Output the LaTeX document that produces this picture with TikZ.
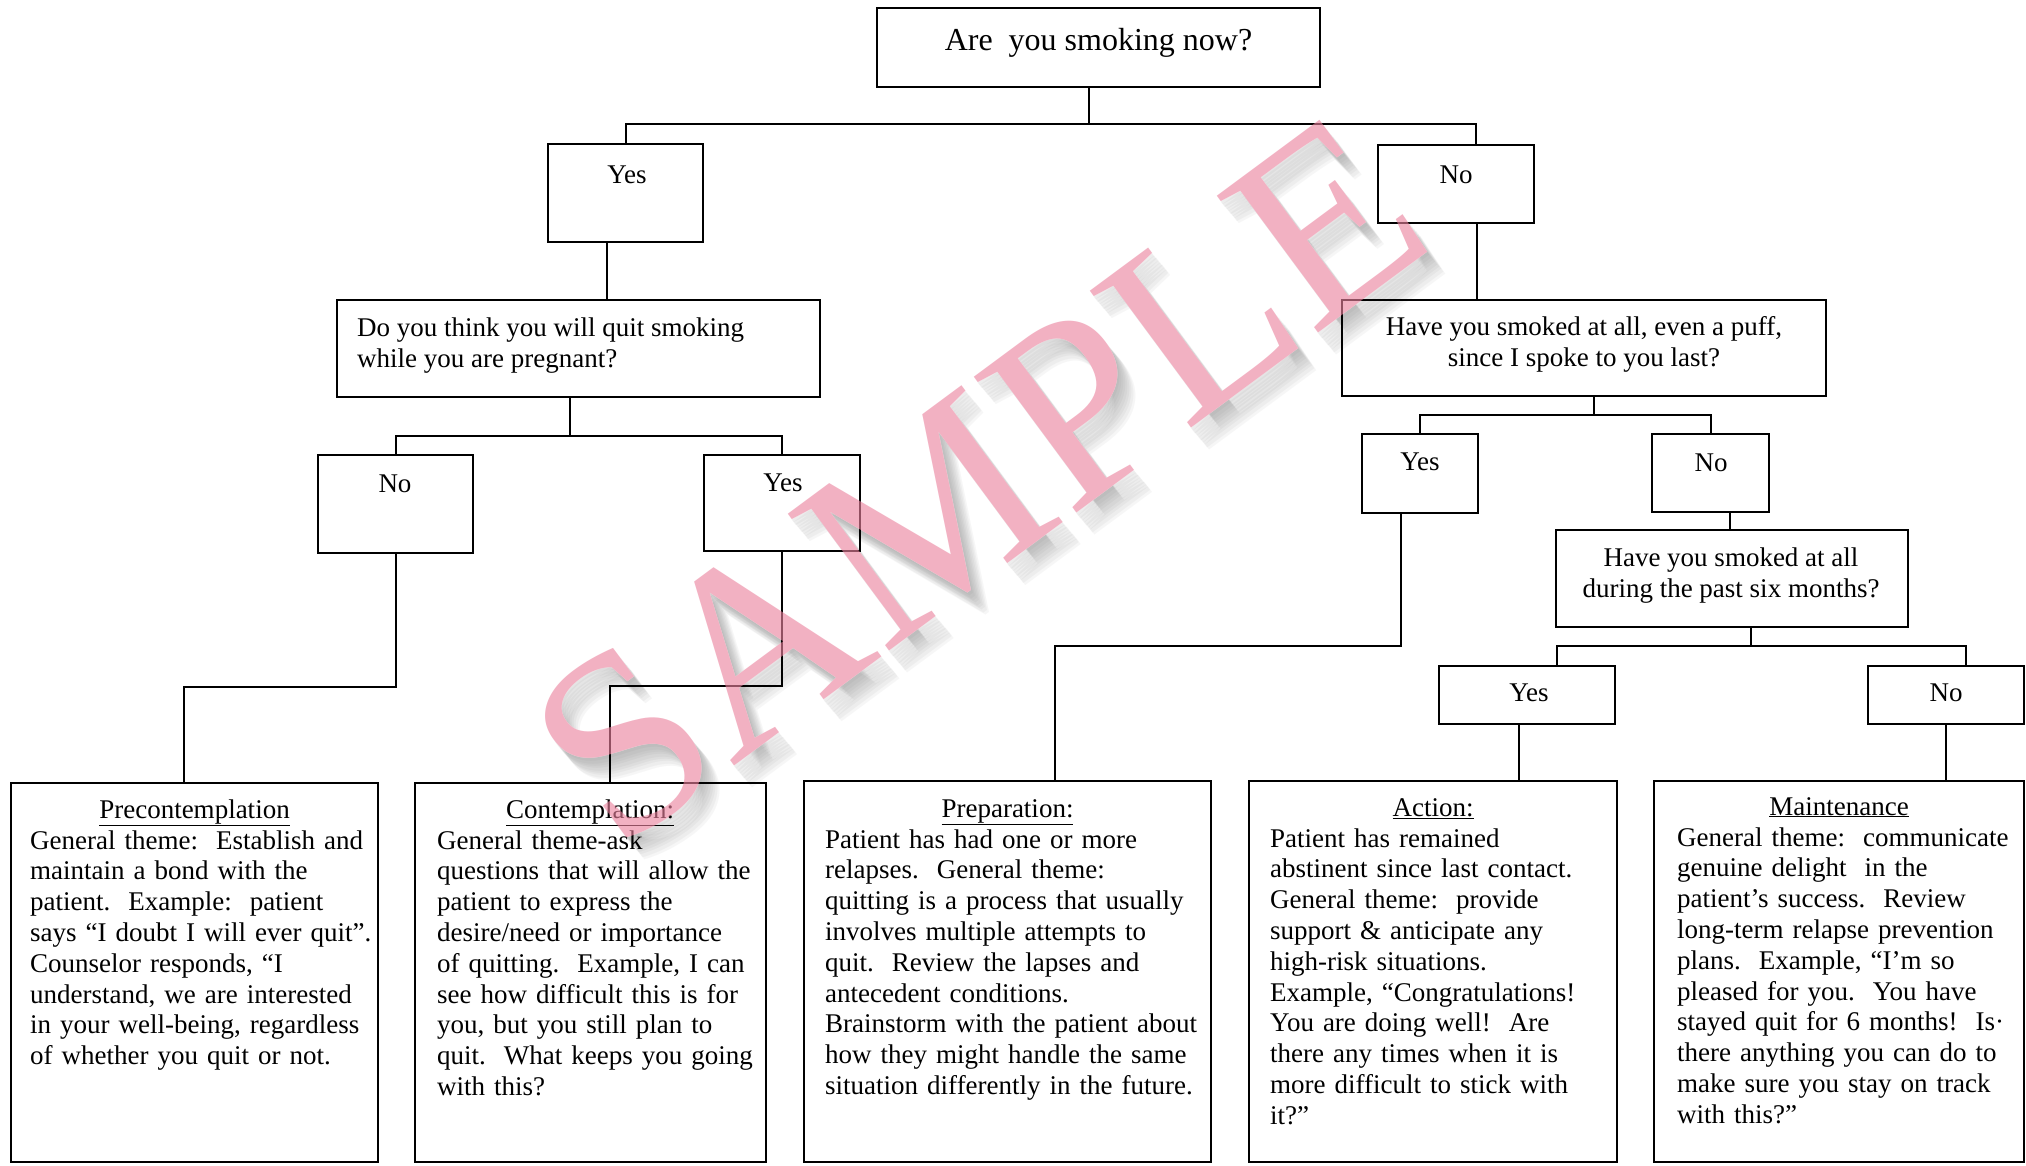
\documentclass[tikz,border=0pt]{standalone}
\usepackage{fontspec}
\setmainfont{Liberation Serif}
\definecolor{wmpink}{RGB}{235,130,158}
\definecolor{wmshade}{RGB}{100,100,100}
\begin{document}
\begin{tikzpicture}[x=1pt,y=-1pt,
  box/.style={draw, line width=2pt, inner sep=0pt, outer sep=0pt, anchor=north west},
  conn/.style={line width=2pt},
  lbl/.style={font=\fontsize{27}{31}\selectfont, inner sep=0pt, anchor=base},
  body/.style={font=\fontsize{27}{30.8}\selectfont, inner sep=0pt, anchor=base west, align=left, text width=420pt},
  wmtext/.style={rotate=36.5, font=\fontsize{260}{260}\selectfont, inner sep=0pt},
  wmshadow/.style={wmtext, text=wmshade, opacity=0.055}]
\useasboundingbox (0,0) rectangle (2026,1165);
\fill[white] (0,0) rectangle (2026,1165);
\begin{scope}
\clip (0,0) rectangle (2026,1165);
% watermark shadow and knockout
\node[wmshadow] (wms1) at (980,483) {SAMPLE};
\node[wmshadow] (wms2) at (982,486) {SAMPLE};
\node[wmshadow] (wms3) at (984,488) {SAMPLE};
\node[wmshadow] (wms4) at (986,490) {SAMPLE};
\node[wmshadow] (wms5) at (988,493) {SAMPLE};
\node[wmshadow] (wms6) at (990,495) {SAMPLE};
\node[wmshadow] (wms7) at (992,497) {SAMPLE};
\node[wmshadow] (wms8) at (994,500) {SAMPLE};
\node[wmshadow] (wms9) at (996,502) {SAMPLE};
\node[wmtext, text=white] (wmk) at (978,480) {SAMPLE};

% boxes
\node[box, minimum width=443pt, minimum height=79pt] (top) at (877,8) {};
\node[box, minimum width=155pt, minimum height=98pt] (yes1) at (548,144) {};
\node[box, minimum width=156pt, minimum height=78pt] (no1) at (1378,145) {};
\node[box, minimum width=483pt, minimum height=97pt] (q1) at (337,300) {};
\node[box, minimum width=484pt, minimum height=96pt] (q2) at (1342,300) {};
\node[box, minimum width=155pt, minimum height=98pt] (no2) at (318,455) {};
\node[box, minimum width=156pt, minimum height=96pt] (yes2) at (704,455) {};
\node[box, minimum width=116pt, minimum height=79pt] (yes3) at (1362,434) {};
\node[box, minimum width=117pt, minimum height=78pt] (no3) at (1652,434) {};
\node[box, minimum width=352pt, minimum height=97pt] (q3) at (1556,530) {};
\node[box, minimum width=176pt, minimum height=58pt] (yes4) at (1439,666) {};
\node[box, minimum width=156pt, minimum height=58pt] (no4) at (1868,666) {};
\node[box, minimum width=367pt, minimum height=379pt] (pre) at (11,783) {};
\node[box, minimum width=351pt, minimum height=379pt] (con) at (415,783) {};
\node[box, minimum width=407pt, minimum height=381pt] (prep) at (804,781) {};
\node[box, minimum width=368pt, minimum height=381pt] (act) at (1249,781) {};
\node[box, minimum width=370pt, minimum height=381pt] (mai) at (1654,781) {};

% junctions
\coordinate (j0) at (1089,124);
\coordinate (j1) at (570,436);
\coordinate (j2) at (184,687);
\coordinate (j3) at (610,686);
\coordinate (j4) at (1594,415);
\coordinate (j5) at (1055,646);
\coordinate (j6) at (1751,646);

% connectors
\draw[conn] ([xshift=-9.5pt]top.south) -- (j0);
\draw[conn] (yes1.north) |- (j0) -| ([xshift=20pt]no1.north);
\draw[conn] ([xshift=-18.5pt]yes1.south) |- (q1.north);
\draw[conn] ([xshift=-8.5pt]q1.south) -- (j1);
\draw[conn] (no2.north) |- (j1) -| (yes2.north);
\draw[conn] (no2.south) |- (j2) -- ([xshift=-10.5pt]pre.north);
\draw[conn] (yes2.south) |- (j3) -- ([xshift=19.5pt]con.north);
\draw[conn] ([xshift=21pt]no1.south) |- (q2.north);
\draw[conn] ([xshift=10pt]q2.south) -- (j4);
\draw[conn] (yes3.north) |- (j4) -| (no3.north);
\draw[conn] ([xshift=-19pt]yes3.south) |- (j5) -- ([xshift=47.5pt]prep.north);
\draw[conn] ([xshift=19.5pt]no3.south) |- (q3.north);
\draw[conn] ([xshift=19pt]q3.south) -- (j6);
\draw[conn] ([xshift=30pt]yes4.north) |- (j6) -| ([xshift=20pt]no4.north);
\draw[conn] ([xshift=-8pt]yes4.south) |- (act.north);
\draw[conn] (no4.south) |- (mai.north);

% labels
\node[lbl, font=\fontsize{32}{36}\selectfont] (toptxt) at (1098.5,50) {Are\ \ you smoking now?};
\node[lbl] (yes1t) at (627,183) {Yes};
\node[lbl] (no1t) at (1456,183) {No};
\node[lbl, anchor=base west, align=left] (q1t) at (357,367) {Do you think you will quit smoking\\while you are pregnant?};
\node[lbl, align=center] (q2t) at (1584,366) {Have you smoked at all, even a puff,\\since I spoke to you last?};
\node[lbl] (no2t) at (395,492) {No};
\node[lbl] (yes2t) at (783,491) {Yes};
\node[lbl] (yes3t) at (1420,470) {Yes};
\node[lbl] (no3t) at (1711,471) {No};
\node[lbl, align=center] (q3t) at (1731,597) {Have you smoked at all\\during the past six months?};
\node[lbl] (yes4t) at (1529,701) {Yes};
\node[lbl] (no4t) at (1946,701) {No};

% stage titles
\node[lbl] (pretitle) at (194.5,818) {\underline{Precontemplation}};
\node[lbl] (contitle) at (590,818) {\underline{Contemplation:}};
\node[lbl] (preptitle) at (1007.5,817) {\underline{Preparation:}};
\node[lbl] (acttitle) at (1433,816) {\underline{Action:}};
\node[lbl] (maititle) at (1839,815) {\underline{Maintenance}};

% stage bodies
\node[body] (prebody) at (30,849) {General theme:\ \ Establish and\\
maintain a bond with the\\
patient.\ \ Example:\ \ patient\\
says “I doubt I will ever quit”.\\
Counselor responds, “I\\
understand, we are interested\\
in your well-being, regardless\\
of whether you quit or not.};
\node[body] (conbody) at (437,849) {General theme-ask\\
questions that will allow the\\
patient to express the\\
desire/need or importance\\
of quitting.\ \ Example, I can\\
see how difficult this is for\\
you, but you still plan to\\
quit.\ \ What keeps you going\\
with this?};
\node[body] (prepbody) at (825,848) {Patient has had one or more\\
relapses.\ \ General theme:\\
quitting is a process that usually\\
involves multiple attempts to\\
quit.\ \ Review the lapses and\\
antecedent conditions.\\
Brainstorm with the patient about\\
how they might handle the same\\
situation differently in the future.};
\node[body] (actbody) at (1270,847) {Patient has remained\\
abstinent since last contact.\\
General theme:\ \ provide\\
support \& anticipate any\\
high-risk situations.\\
Example, “Congratulations!\\
You are doing well!\ \ Are\\
there any times when it is\\
more difficult to stick with\\
it?”};
\node[body, text width=345pt] (maibody) at (1677,846) {General theme:\ \ communicate\\
genuine delight\ \ in the\\
patient’s success.\ \ Review\\
long-term relapse prevention\\
plans.\ \ Example, “I’m so\\
pleased for you.\ \ You have\\
stayed quit for 6 months!\ \ Is·\\
there anything you can do to\\
make sure you stay on track\\
with this?”};

% watermark
\node[wmtext, text=wmpink, opacity=0.62] (wm) at (978,480) {SAMPLE};
\end{scope}
\end{tikzpicture}
\end{document}
